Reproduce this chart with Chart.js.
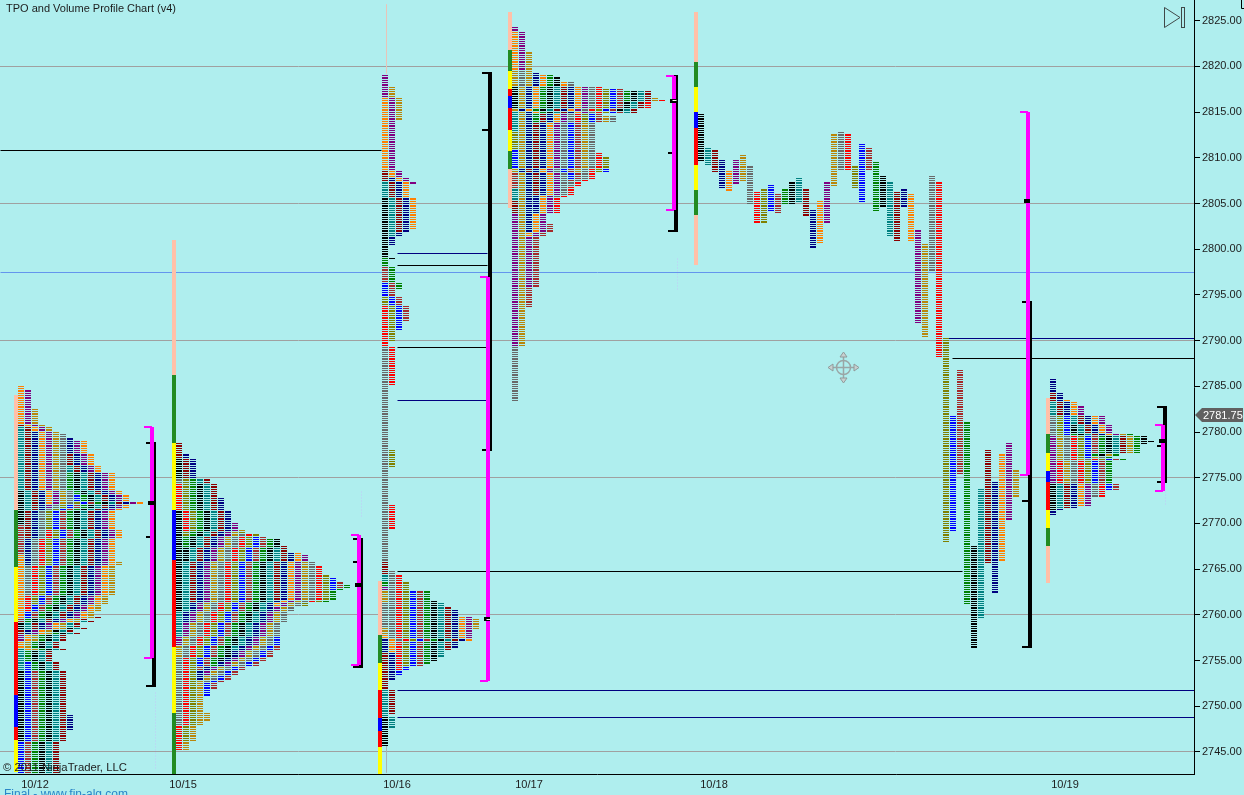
<!DOCTYPE html>
<html>
<head>
<meta charset="utf-8">
<title>TPO and Volume Profile Chart (v4)</title>
<script src="https://cdn.jsdelivr.net/npm/chart.js@4/dist/chart.umd.min.js"></script>
<style>
  html, body { margin: 0; padding: 0; background: #afeeee; overflow: hidden; }
  #wrap { position: relative; width: 1244px; height: 795px; overflow: hidden; font-family: "Liberation Sans", Arial, sans-serif; }
  canvas { position: absolute; left: 0; top: 0; }
  .txt { position: absolute; white-space: nowrap; color: #1c1c1c; }
  svg { position: absolute; left: 0; top: 0; }
</style>
</head>
<body>
<div id="wrap">
  <canvas id="chart" width="1244" height="795"></canvas>
  <svg width="1244" height="795">
    <polygon points="1164.5,7.5 1164.5,27.5 1180,17.5" fill="none" stroke="#404848"/>
    <rect x="1181.5" y="7.5" width="3" height="20" fill="none" stroke="#404848"/>
    <path d="M1241.5 0 V8.5 H1244" fill="none" stroke="#000"/>
    <polygon points="1195,415 1202,408 1243,408 1243,422 1202,422" fill="#606060"/>
    <text x="1203" y="419" fill="#fff" font-size="11" font-family="Liberation Sans">2781.75</text>
    <g fill="none" stroke="#9aa6a6" stroke-width="1.5">
      <circle cx="843.5" cy="367.5" r="7"/>
      <path d="M843.5 355 V380 M831 367.5 H856"/>
    </g>
    <g fill="#c8d0d0" stroke="#8f9a9a">
      <polygon points="843.5,352 840,357 847,357"/>
      <polygon points="843.5,383 840,378 847,378"/>
      <polygon points="828,367.5 833,364 833,371"/>
      <polygon points="859,367.5 854,364 854,371"/>
    </g>
  </svg>
  <div class="txt" style="left:6px;top:2px;font-size:11px">TPO and Volume Profile Chart (v4)</div>
  <div class="txt" style="left:3px;top:761px;font-size:11.3px">© 2011 NinjaTrader, LLC</div>
  <div class="txt" style="left:4px;top:787px;font-size:12px;color:#2b86c8">Final - www.fin-alg.com</div>
</div>
<script>
// TPO letters, each letter is one period colour
const letterColors = {
  A: "#000000", B: "#008080", C: "#8b0000", D: "#000080", E: "#ff8000", F: "#800080", G: "#b8860b",
  H: "#696969", I: "#ff0000", J: "#808000", K: "#0000ff", L: "#a52a2a", M: "#008000",
};
const stripColorMap = { P: "#ffc0a8", G: "#228b22", Y: "#ffff00", R: "#ff0000", B: "#0000ff" };

const sessionLabels = ["10/12", "10/15", "10/16", "10/17", "10/18", "10/19"];
const labelSlots = [35, 183, 397, 529, 714, 1065];
const sessionSlots = [18, 176, 382, 512, 698, 1050];
const stripSlots = [16, 174, 380, 510, 696, 1048];
const bracketSlots = [152, 359, 488, 674, 1028, 1163];
const priceTicks = [2745, 2750, 2755, 2760, 2765, 2770, 2775, 2780, 2785, 2790, 2795, 2800, 2805, 2810, 2815, 2820, 2825];
const gridPrices = [2820, 2805, 2790, 2775, 2760, 2745];

// periods of each session: letter, high and low price
const letters12 = "BAKLALEBCDEFGHIJKLMABCDFEGMABCD";
const high12 = [2756.25, 2753.75, 2754.75, 2753.75, 2773.5, 2769.75, 2766.5, 2780.5, 2780.75, 2780, 2785, 2784.5, 2782.5, 2779.75, 2769.25, 2772.25, 2773, 2772.25, 2775.5, 2775.5, 2776.25, 2777.5, 2779.25, 2779, 2779, 2765.75, 2758, 2758.5, 2759.25, 2759.75, 2749];
const low12 = [2754, 2746.25, 2742.75, 2742.75, 2770, 2766.75, 2759.75, 2771.5, 2768.5, 2765.5, 2772.25, 2771.75, 2772.25, 2762.25, 2760.5, 2761.25, 2759.75, 2759.25, 2759.25, 2758.5, 2758.5, 2758, 2758, 2757.25, 2756.25, 2756.25, 2742.75, 2742.75, 2742.75, 2742.75, 2747.5];

const letters15 = "ACDAHIJMABCDFGHIJKLMABCDEFGHIJKLMKLG";
const high15 = [2777, 2778.75, 2777.5, 2771.25, 2774.75, 2774.25, 2774.75, 2774.75, 2774.25, 2774.75, 2774.75, 2772.75, 2770, 2769.25, 2768.75, 2768.75, 2769, 2768.5, 2768.5, 2768.25, 2768.25, 2767.25, 2767.5, 2766.75, 2766.75, 2766.5, 2765.75, 2765.75, 2765.25, 2764.25, 2764, 2763.5, 2763.25, 2757.5, 2756.5, 2749.25];
const low15 = [2775, 2775, 2775, 2760.5, 2774.5, 2769.25, 2768.75, 2767.5, 2766, 2757.75, 2761.5, 2759.25, 2756.75, 2755.5, 2748, 2745.25, 2746.25, 2754.5, 2754, 2754.5, 2755, 2756.25, 2761.75, 2753, 2761, 2753.5, 2745.25, 2752.75, 2761.5, 2761, 2762.75, 2763, 2761.5, 2751.25, 2752, 2748.5];

const letters16 = "ABCDEGHGFMBCHIJKLMAABCDEFGJIHIJKLMABCDEFG";
const high16 = [2748.75, 2751.75, 2755.75, 2757.25, 2757.75, 2758.5, 2761.25, 2762.5, 2763, 2763.5, 2764.25, 2765.75, 2789.25, 2793.75, 2794.75, 2796.25, 2798, 2799, 2805.5, 2799.25, 2807.25, 2808.5, 2807.75, 2816.5, 2819, 2817.75, 2778, 2772, 2764.75, 2764.25, 2763.5, 2762.5, 2762.5, 2762.5, 2761.5, 2761.25, 2760.75, 2760.5, 2759.75, 2759.75, 2759.5];
const low16 = [2745.75, 2747.75, 2749.25, 2753, 2756, 2758, 2758.75, 2761.5, 2762.75, 2763.25, 2763.75, 2764.5, 2766, 2785.25, 2790, 2791.25, 2792.25, 2795.75, 2799.5, 2799, 2801.5, 2802, 2800.5, 2802.25, 2807.25, 2814.25, 2776.25, 2769.5, 2757.25, 2754, 2754.5, 2753.5, 2754.5, 2754.75, 2755, 2755.5, 2756.25, 2756.5, 2757.25, 2757.5, 2758.5];

const letters17 = "JKLABBCFHGEFFHGDEMABCDEFHIJKLMABCGIGHIJKL";
const high17 = [2812.75, 2810.75, 2808.25, 2817.75, 2815, 2806.5, 2805.25, 2803.75, 2789.25, 2819.5, 2823.75, 2824.25, 2823.75, 2819.5, 2821.5, 2819.25, 2819, 2819, 2818.75, 2817.75, 2817.75, 2817.75, 2818.25, 2817.75, 2818.25, 2817.75, 2817.5, 2817.5, 2817.5, 2817.25, 2817.25, 2817.25, 2817.25, 2816.5, 2816.25, 2814.5, 2814.5, 2810.5, 2810, 2808.75, 2802.75];
const low17 = [2811, 2809, 2806.75, 2815.5, 2813, 2805.5, 2804, 2789.5, 2783.5, 2818, 2819.75, 2824, 2819.75, 2818, 2789.5, 2802, 2815, 2814, 2815, 2815, 2806, 2804, 2801.5, 2796, 2805.75, 2814, 2814, 2807.75, 2807.5, 2816.25, 2815.25, 2815, 2815, 2816.25, 2815.5, 2808.5, 2807, 2804, 2808.5, 2808.5, 2793.75];

const letters18 = "ABCDEFGHIJKLMABCDEFGHIJKLMABCDEFGHIJKLMABCDEFG";
const high18 = [2814.75, 2811, 2810.75, 2809.75, 2808.5, 2809.75, 2810.25, 2809, 2806.25, 2806.5, 2807, 2806, 2806.5, 2807.25, 2807.75, 2806.5, 2804.25, 2805.25, 2807.25, 2812.5, 2812.75, 2812.5, 2809, 2811.5, 2811, 2809.5, 2808, 2807.25, 2806.25, 2806.5, 2806, 2802, 2800.5, 2808, 2807.25, 2790.25, 2781.75, 2786.75, 2781, 2767.5, 2773.75, 2778, 2774.5, 2777.5, 2778.75, 2775.75];
const low18 = [2809.75, 2809.25, 2808.5, 2806.75, 2806.5, 2807.25, 2807.5, 2805, 2803, 2803, 2804.25, 2804, 2805, 2805, 2805.25, 2803.75, 2800.25, 2800.75, 2803, 2807, 2808.75, 2808.75, 2806.75, 2805.25, 2808.75, 2804.25, 2804.75, 2801.5, 2801, 2804.75, 2801, 2792, 2790.5, 2797.75, 2788.25, 2768, 2769.25, 2775.5, 2761.25, 2756.5, 2759.75, 2765.75, 2762.5, 2766, 2770.5, 2773];

const letters19 = "ABCDEFGHIJKLMABCDEFGHIJKLMAA";
const high19 = [2774.25, 2774.25, 2774.25, 2774.25, 2774.25, 2779.5, 2779.5, 2781.75, 2779.5, 2781.75, 2781.75, 2779.5, 2779.75, 2780.75, 2783.25, 2784.25, 2785.75, 2783.5, 2782.75, 2779.75, 2777.25, 2777, 2777, 2777, 2777, 2779.75, 2779.5, 2779];
const low19 = [2771.5, 2771.75, 2771.75, 2771, 2772, 2772, 2777, 2777, 2774.5, 2777.25, 2777.25, 2777.75, 2777.5, 2777.5, 2777.75, 2777.75, 2779.75, 2779.75, 2779.75, 2774.5, 2773, 2773, 2774.5, 2773.75, 2773.75, 2774.5, 2778.75, 2779];

// segmented strip left of each profile
const stripCodes = ["PGYRBRY", "PGYBRYG", "PGYRBRY", "PGYRBRYGP", "PGYBRYGP", "PGYBRYGP"];
const stripEdges12 = [2784, 2771.5, 2765.25, 2759.25, 2751.25, 2747.75, 2746.25, 2742.75];
const stripEdges15 = [2801, 2786.25, 2778.75, 2771.5, 2766, 2756.5, 2749.25, 2742.6];
const stripEdges16 = [2763.75, 2757.75, 2754.75, 2751.75, 2748.75, 2747.25, 2745.5, 2742.6];
const stripEdges17 = [2826, 2821.75, 2819.5, 2817.5, 2816.75, 2815.5, 2813, 2810.75, 2808.75, 2804.5];
const stripEdges18 = [2826, 2820.5, 2817.75, 2815, 2813.25, 2809.25, 2806.5, 2803.75, 2798.25];
const stripEdges19 = [2783.75, 2779.75, 2777.75, 2775.75, 2774.5, 2771.5, 2769.5, 2767.5, 2763.5];

// brackets at the right of each session
const magentaHigh = [2780.5, 2768.75, 2797, 2819, 2815, 2780.75];
const magentaLow = [2755.25, 2754.5, 2752.75, 2804.25, 2775.25, 2773.5];
const blackHigh = [2778.75, 2768.25, 2819.25, 2819, 2794.25, 2782.75];
const blackLow = [2752.25, 2754.25, 2778, 2802, 2756.5, 2774.5];
const blackTick = [2768.5, 2765.75, 2813, 2810.5, 2772.5, 2778.5];
const pocPrice = [2772.25, 2763.25, 2759.5, 2816.25, 2805.25, 2779];

// naked levels carried to the right
const levelPrice = [2810.75, 2799.5, 2798.25, 2789.25, 2783.5, 2764.75, 2751.75, 2748.75, 2790.25, 2788];
const levelFrom = [0, 397, 397, 397, 397, 397, 397, 397, 945, 952];
const levelTo = [381, 488, 488, 488, 488, 962, 1194, 1194, 1194, 1194];
const levelColor = ["#000000", "#000080", "#000000", "#000000", "#000080", "#000000", "#000080", "#000080", "#000080", "#000000"];

const tpoSessions = [
  [letters12, high12, low12], [letters15, high15, low15], [letters16, high16, low16],
  [letters17, high17, low17], [letters18, high18, low18], [letters19, high19, low19],
];
const stripEdges = [stripEdges12, stripEdges15, stripEdges16, stripEdges17, stripEdges18, stripEdges19];

const cells = {};
Object.keys(letterColors).forEach((l) => (cells[l] = []));

tpoSessions.forEach(([letters, highs, lows], s) => {
  if (s === 4) {
    // 10/18 is not collapsed, every period keeps its own column
    highs.forEach((hi, i) => {
      for (let p = hi; p >= lows[i]; p -= 0.25) cells[letters[i]].push({ x: sessionSlots[s] + i * 7 + 3, y: p });
    });
    return;
  }
  const used = {};
  highs.forEach((hi, i) => {
    for (let p = hi; p >= lows[i]; p -= 0.25) {
      const col = used[p] || 0;
      used[p] = col + 1;
      cells[letters[i]].push({ x: sessionSlots[s] + col * 7 + 3, y: p });
    }
  });
});

function rowThickness(scale, price) {
  const top = Math.floor(scale.getPixelForValue(price));
  const next = Math.floor(scale.getPixelForValue(price - 0.25));
  return Math.max(1, next - top - 1);
}

const datasets = [];
Object.keys(cells).forEach((l) => {
  datasets.push({
    label: l,
    data: cells[l],
    isRow: true,
    order: 10,
    pointStyle: "line",
    pointRadius: 3,
    pointBorderColor: letterColors[l],
    pointBorderWidth: (ctx) => (ctx.parsed ? rowThickness(ctx.chart.scales.y, ctx.parsed.y) : 1),
  });
});

function seg(x1, y1, x2, y2, color, width, order, dash) {
  datasets.push({
    data: [{ x: x1, y: y1 }, { x: x2, y: y2 }],
    showLine: true,
    pointRadius: 0,
    borderColor: color,
    borderWidth: width,
    borderDash: dash || [],
    snapWidth: width,
    order: order,
  });
}

// strips
stripEdges.forEach((edges, s) => {
  for (let i = 0; i < edges.length - 1; i++) {
    seg(stripSlots[s], edges[i], stripSlots[s], edges[i + 1], stripColorMap[stripCodes[s][i]], 4, 9);
  }
});

// brackets
bracketSlots.forEach((m, s) => {
  seg(m + 2, blackHigh[s], m + 2, blackLow[s], "#000000", 4, 3);
  seg(m - 6, blackHigh[s], m + 4, blackHigh[s], "#000000", 2, 3);
  seg(m - 6, blackLow[s], m + 4, blackLow[s], "#000000", 2, 3);
  seg(m - 6, blackTick[s], m + 4, blackTick[s], "#000000", 2, 3);
  seg(m, magentaHigh[s], m, magentaLow[s], "#ff00ff", 4, 2);
  seg(m - 8, magentaHigh[s], m, magentaHigh[s], "#ff00ff", 2, 2);
  seg(m - 8, magentaLow[s], m, magentaLow[s], "#ff00ff", 2, 2);
  seg(m - 4, pocPrice[s], m + 2, pocPrice[s], "#000000", 4, 1);
});
seg(486, pocPrice[2], 490, pocPrice[2], "#ffffff", 1, 0);
seg(672, pocPrice[3], 676, pocPrice[3], "#ffffff", 1, 0);

// levels
levelPrice.forEach((p, i) => seg(levelFrom[i], p, levelTo[i], p, levelColor[i], 1, 12));
seg(0, 2797.5, 1194, 2797.5, "#6495ed", 1, 13);

// thin session wicks and faint volume specks
seg(386, 2826.75, 386, 2819.25, "#e8c4b8", 1, 14);
seg(386, 2745.75, 386, 2742.75, "#a8b4b4", 1, 14);
seg(155, 2751.5, 155, 2743, "#c0c8f8", 1, 14, [1, 2]);
seg(361, 2773.5, 361, 2770.5, "#c0c8f8", 1, 14, [1, 2]);
seg(677, 2799, 677, 2795.5, "#c0c8f8", 1, 14, [1, 2]);
seg(1165, 2773.5, 1165, 2772, "#c0c8f8", 1, 14, [1, 2]);

// keep the dashes on whole pixels like the original
const pixelSnap = {
  id: "pixelSnap",
  afterDatasetsUpdate(chart) {
    chart.data.datasets.forEach((ds, i) => {
      const meta = chart.getDatasetMeta(i);
      if (ds.isRow) {
        const scale = chart.scales.y;
        meta.data.forEach((pt, k) => {
          const price = ds.data[k].y;
          const h = rowThickness(scale, price);
          pt.x = Math.round(pt.x);
          pt.y = Math.floor(scale.getPixelForValue(price)) + h / 2;
        });
      } else if (ds.snapWidth) {
        const odd = ds.snapWidth % 2 === 1;
        meta.data.forEach((pt) => {
          pt.x = odd ? Math.floor(pt.x) + 0.5 : Math.round(pt.x);
          pt.y = odd ? Math.floor(pt.y) + 0.5 : Math.round(pt.y);
        });
      }
    });
  },
};

new Chart(document.getElementById("chart"), {
  type: "scatter",
  data: { datasets },
  plugins: [pixelSnap],
  options: {
    responsive: false,
    animation: false,
    events: [],
    layout: { padding: 0, autoPadding: false },
    plugins: { legend: { display: false }, tooltip: { enabled: false } },
    scales: {
      x: {
        type: "linear",
        bounds: "data",
        min: 0,
        max: 1194,
        position: "bottom",
        border: { color: "#000000", width: 1 },
        grid: { drawOnChartArea: false, drawTicks: false },
        afterBuildTicks: (scale) => {
          scale.ticks = labelSlots.map((v) => ({ value: v }));
        },
        afterFit: (scale) => {
          scale.height = 21;
          scale.paddingLeft = 0;
          scale.paddingRight = 0;
        },
        ticks: {
          autoSkip: false,
          maxRotation: 0,
          padding: 4,
          color: "#1c1c1c",
          font: { family: "'Liberation Sans'", size: 11 },
          callback: (v) => sessionLabels[labelSlots.indexOf(v)],
        },
      },
      y: {
        type: "linear",
        bounds: "data",
        position: "right",
        min: 2742.58,
        max: 2827.27,
        border: { color: "#000000", width: 1 },
        grid: {
          color: (ctx) => (gridPrices.includes(ctx.tick && ctx.tick.value) ? "#a0a0a0" : "rgba(0,0,0,0)"),
          tickColor: "#000000",
          tickLength: 6,
          lineWidth: 1,
        },
        afterBuildTicks: (scale) => {
          scale.ticks = priceTicks.map((v) => ({ value: v }));
        },
        afterFit: (scale) => {
          scale.width = 50;
          scale.paddingTop = 0;
          scale.paddingBottom = 0;
        },
        ticks: {
          autoSkip: false,
          includeBounds: false,
          padding: 2,
          color: "#1c1c1c",
          font: { family: "'Liberation Sans'", size: 11 },
          callback: (v) => v.toFixed(2),
        },
      },
    },
  },
});
</script>
</body>
</html>
